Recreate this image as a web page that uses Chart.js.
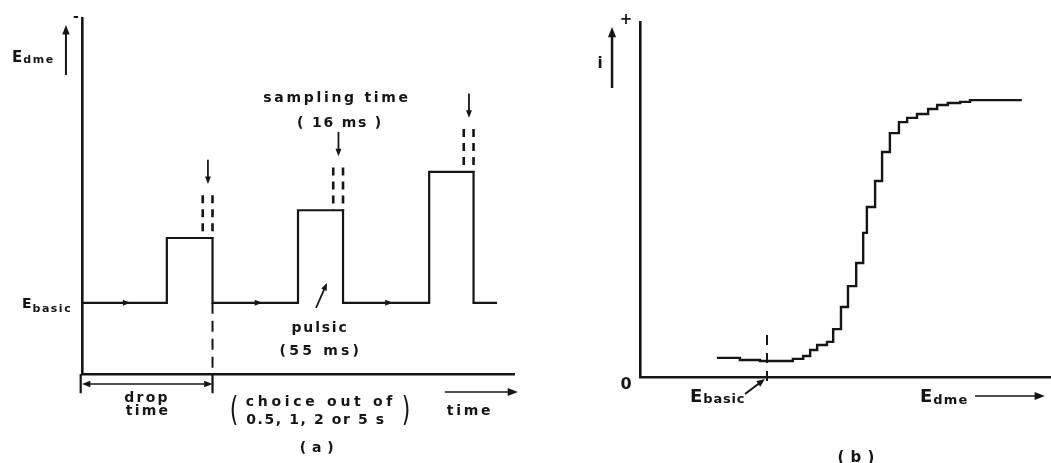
<!DOCTYPE html>
<html>
<head>
<meta charset="utf-8">
<script src="https://cdn.jsdelivr.net/npm/chart.js@4.4.1/dist/chart.umd.min.js"></script>
<style>
  html, body { margin: 0; padding: 0; background: #fff; }
  #wrap { position: relative; width: 1051px; height: 463px; overflow: hidden; }
  .panel { position: absolute; top: 0; height: 463px; }
  #pa { left: 0; width: 560px; }
  #pb { left: 560px; width: 491px; }
</style>
</head>
<body>
<div id="wrap">
  <div class="panel" id="pa"><canvas id="chartA"></canvas></div>
  <div class="panel" id="pb"><canvas id="chartB"></canvas></div>
</div>
<script>
// (a) potential programme of the dme (time in drop-time units, E arbitrary)
const dropEnds = [1, 2, 3];
const pulseStarts = [0.65, 1.655, 2.66];
const pulseLevels = [1.91, 2.30, 2.84];
const basicLevel = 1.0;
const programmeEnd = 3.18;

// (b) sampled current against E_dme (arbitrary units)
const eDme = [1.87, 2.43, 2.92, 3.41, 3.72, 3.97, 4.14, 4.31, 4.55, 4.70, 4.89, 5.06, 5.26,
  5.43, 5.52, 5.72, 5.89, 6.08, 6.30, 6.50, 6.74, 7.01, 7.23, 7.49, 7.79, 8.03, 9.29];
const current = [0.54, 0.48, 0.45, 0.45, 0.51, 0.59, 0.76, 0.90, 0.99, 1.35, 1.97, 2.56, 3.21,
  4.06, 4.79, 5.52, 6.34, 6.87, 7.18, 7.30, 7.41, 7.55, 7.66, 7.72, 7.75, 7.80, 7.80];
const eBasic = 3.09;

const INK = '#151515';
const FONT = '"DejaVu Sans", sans-serif';

function drawHead(ctx, x, y, a, len) {
  const w = 0.38;
  ctx.beginPath();
  ctx.moveTo(x, y);
  ctx.lineTo(x - len * Math.cos(a - w), y - len * Math.sin(a - w));
  ctx.lineTo(x - len * Math.cos(a + w), y - len * Math.sin(a + w));
  ctx.closePath();
  ctx.fill();
}

function drawArrow(ctx, x1, y1, x2, y2, head, width, both) {
  const a = Math.atan2(y2 - y1, x2 - x1);
  const back = head * 0.7;
  ctx.lineWidth = width;
  ctx.beginPath();
  ctx.moveTo(both ? x1 + Math.cos(a) * back : x1, both ? y1 + Math.sin(a) * back : y1);
  ctx.lineTo(x2 - Math.cos(a) * back, y2 - Math.sin(a) * back);
  ctx.stroke();
  drawHead(ctx, x2, y2, a, head);
  if (both) drawHead(ctx, x1, y1, a + Math.PI, head);
}

// labels, arrows and marker lines, placed in data units through the scales
const sketch = {
  id: 'sketch',
  afterDraw(chart, args, opts) {
    const { ctx } = chart;
    const sx = chart.scales.x, sy = chart.scales.y;
    const P = p => [sx.getPixelForValue(p[0]), sy.getPixelForValue(p[1])];
    ctx.save();
    ctx.strokeStyle = INK;
    ctx.fillStyle = INK;
    (opts.lines || []).forEach(l => {
      const [x1, y1] = P(l.from), [x2, y2] = P(l.to);
      ctx.setLineDash(l.dash || []);
      ctx.lineWidth = l.width || 1.5;
      ctx.beginPath(); ctx.moveTo(x1, y1); ctx.lineTo(x2, y2); ctx.stroke();
    });
    ctx.setLineDash([]);
    (opts.arrows || []).forEach(a => {
      const [x1, y1] = P(a.from), [x2, y2] = P(a.to);
      drawArrow(ctx, x1, y1, x2, y2, a.head || 8, a.width || 1.5, a.both);
    });
    (opts.heads || []).forEach(h => {
      const [x, y] = P(h.at);
      drawHead(ctx, x, y, h.angle || 0, h.len || 8);
    });
    (opts.labels || []).forEach(t => {
      const [x, y] = P(t.at);
      ctx.font = `${t.weight || 'bold'} ${t.size || 14}px ${FONT}`;
      ctx.letterSpacing = `${t.spacing ?? 2.5}px`;
      ctx.textAlign = t.align || 'center';
      ctx.textBaseline = 'alphabetic';
      ctx.save();
      ctx.translate(x, y);
      ctx.scale(1, t.stretch || 1);
      ctx.fillText(t.text, 0, 0);
      ctx.restore();
      if (t.sub) {
        const w = ctx.measureText(t.text).width;
        ctx.font = `${t.weight || 'bold'} ${t.subSize || 11}px ${FONT}`;
        ctx.letterSpacing = `${t.subSpacing ?? 1.5}px`;
        ctx.textAlign = 'left';
        ctx.fillText(t.sub, x + w + 1, y + (t.subDrop ?? 2));
      }
    });
    ctx.letterSpacing = '0px';
    ctx.restore();
  }
};

function axis(max) {
  return {
    type: 'linear', min: 0, max,
    grid: { display: false, drawTicks: false },
    ticks: { display: false },
    border: { display: true, color: INK, width: 2.6 }
  };
}

function options(xMax, yMax, padding, marks) {
  return {
    responsive: true,
    maintainAspectRatio: false,
    animation: false,
    events: [],
    layout: { padding },
    plugins: { legend: { display: false }, tooltip: { enabled: false }, sketch: marks },
    scales: { x: axis(xMax), y: axis(yMax) }
  };
}

const lineStyle = { borderColor: INK, pointRadius: 0, fill: false, tension: 0 };

// ---- panel (a)
const wave = [{ x: 0, y: basicLevel }];
dropEnds.forEach((d, k) => {
  wave.push({ x: pulseStarts[k], y: basicLevel }, { x: pulseStarts[k], y: pulseLevels[k] },
            { x: d, y: pulseLevels[k] }, { x: d, y: basicLevel });
});
wave.push({ x: programmeEnd, y: basicLevel });

const setsA = [
  { ...lineStyle, data: wave, borderWidth: 2.2 },
  { ...lineStyle, data: [{ x: dropEnds[0], y: basicLevel }, { x: dropEnds[0], y: 0 }], borderWidth: 2, borderDash: [11, 7] }
];
dropEnds.forEach((d, k) => {
  [d - 0.075, d].forEach(x => setsA.push({
    ...lineStyle, borderWidth: 2.6, borderDash: [8, 6],
    data: [{ x, y: pulseLevels[k] + 0.6 }, { x, y: pulseLevels[k] }]
  }));
});

const marksA = {
  lines: [
    { from: [-0.01, 0], to: [-0.01, -0.27], width: 2.2 },
    { from: [1.0, 0], to: [1.0, -0.27], width: 2.2 }
  ],
  arrows: [
    { from: [-0.123, 4.2], to: [-0.123, 4.9], head: 10, width: 2 },
    { from: [1.793, 0.927], to: [1.877, 1.278], head: 8, width: 1.8 },
    { from: [0, -0.14], to: [1, -0.14], head: 9, width: 1.4, both: true },
    { from: [2.78, -0.253], to: [3.34, -0.253], head: 11, width: 1.5 },
    ...dropEnds.map((d, k) => ({ from: [d - 0.035, pulseLevels[k] + 1.1], to: [d - 0.035, pulseLevels[k] + 0.76], head: 8, width: 1.8 }))
  ],
  heads: [{ at: [0.37, basicLevel] }, { at: [1.38, basicLevel] }, { at: [2.38, basicLevel] }],
  labels: [
    { text: 'E', sub: 'dme', at: [-0.536, 4.38], align: 'left', size: 15, spacing: 0, subSize: 11, subSpacing: 1.5, subDrop: 1 },
    { text: '-', at: [-0.046, 4.96], size: 14, spacing: 0 },
    { text: 'E', sub: 'basic', at: [-0.46, 0.927], align: 'left', size: 14, spacing: 0, subSize: 11, subSpacing: 1.5, subDrop: 4 },
    { text: 'sampling time', at: [1.954, 3.82], spacing: 2.7 },
    { text: '( 16 ms )', at: [1.977, 3.47], spacing: 1.8 },
    { text: 'pulsic', at: [1.824, 0.59], spacing: 1.8 },
    { text: '(55 ms)', at: [1.83, 0.267], spacing: 3.2 },
    { text: 'drop', at: [0.498, -0.393], spacing: 2.2 },
    { text: 'time', at: [0.506, -0.576], spacing: 2.2 },
    { text: 'choice out of', at: [1.831, -0.449], spacing: 3.7 },
    { text: '0.5, 1, 2 or 5 s', at: [1.793, -0.702], spacing: 1.6 },
    { text: '(', at: [1.165, -0.66], size: 22, spacing: 0, weight: 'normal', stretch: 1.5 },
    { text: ')', at: [2.483, -0.66], size: 22, spacing: 0, weight: 'normal', stretch: 1.5 },
    { text: 'time', at: [2.973, -0.576], spacing: 2.7 },
    { text: '( a )', at: [1.80, -1.096], size: 14, spacing: 0.5 }
  ]
};

new Chart(document.getElementById('chartA'), {
  type: 'line',
  data: { datasets: setsA },
  options: options(3.31, 5, { left: 82, top: 18, right: 46, bottom: 89 }, marksA),
  plugins: [sketch]
});

// ---- panel (b)
const curve = eDme.map((e, k) => ({ x: e, y: current[k] }));

const marksB = {
  lines: [{ from: [eBasic, 1.18], to: [eBasic, -0.11], width: 2, dash: [10, 8] }],
  arrows: [
    { from: [-0.68, 8.14], to: [-0.68, 9.86], head: 11, width: 2.5 },
    { from: [2.555, -0.48], to: [3.04, -0.056], head: 9, width: 2 },
    { from: [8.15, -0.535], to: [9.85, -0.535], head: 11, width: 1.6 }
  ],
  labels: [
    { text: '+', at: [-0.34, 9.93], size: 15, spacing: 0 },
    { text: 'i', at: [-0.973, 8.70], size: 15, spacing: 0 },
    { text: '0', at: [-0.34, -0.34], size: 16, spacing: 0 },
    { text: 'E', sub: 'basic', at: [1.217, -0.70], align: 'left', size: 18, spacing: 0, subSize: 13, subSpacing: 0.8, subDrop: 1.5 },
    { text: 'E', sub: 'dme', at: [6.81, -0.70], align: 'left', size: 18, spacing: 0, subSize: 13, subSpacing: 1.2, subDrop: 2 },
    { text: '( b )', at: [5.26, -2.39], size: 15, spacing: 0.5 }
  ]
};

new Chart(document.getElementById('chartB'), {
  type: 'line',
  data: { datasets: [{ ...lineStyle, data: curve, borderWidth: 2.4, stepped: 'before' }] },
  options: options(10, 10, { left: 80, top: 22, right: 0, bottom: 86 }, marksB),
  plugins: [sketch]
});
</script>
</body>
</html>
